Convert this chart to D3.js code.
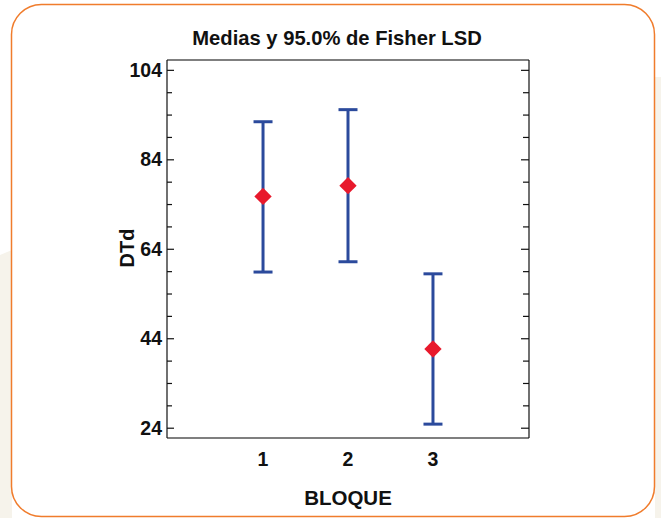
<!DOCTYPE html>
<html>
<head>
<meta charset="utf-8">
<script src="https://cdn.jsdelivr.net/npm/d3@7/dist/d3.min.js"></script>
<style>
  html, body { margin: 0; padding: 0; background: #ffffff; }
  svg { display: block; }
  text { font-family: "Liberation Sans", Arial, sans-serif; font-weight: bold; fill: #111; }
</style>
</head>
<body>
<svg id="chart" width="661" height="518"></svg>
<script>
// ---- data ----
const categories = ["1", "2", "3"];
const means = [75.7, 78.1, 41.6];
const lower = [58.8, 61.1, 24.8];
const upper = [92.4, 95.1, 58.4];
const yTickValues = [24, 44, 64, 84, 104];
const title = "Medias y 95.0% de Fisher LSD";
const xTitle = "BLOQUE";
const yTitle = "DTd";

(function () {
const svg = d3.select("#chart");
const W = 661, H = 518;

// background: beige page areas behind the rounded panel
svg.append("rect").attr("x", 0).attr("y", 0).attr("width", W).attr("height", H).attr("fill", "#ffffff");
svg.append("path").attr("d", "M0,255 L12,250 L12,518 L0,518 Z").attr("fill", "#f6f3eb");
svg.append("rect").attr("x", 655).attr("y", 77).attr("width", 6).attr("height", H - 77).attr("fill", "#f6f3eb");

// rounded panel
svg.append("rect")
  .attr("x", 11.5).attr("y", 4.5).attr("width", 643).attr("height", 512)
  .attr("rx", 30).attr("ry", 30)
  .attr("fill", "#ffffff").attr("stroke", "#f07c2c").attr("stroke-width", 1.5);

// plot area
const pL = 167, pR = 529, pT = 60, pB = 438;
const y = d3.scaleLinear().domain([21.7, 106.2]).range([pB, pT]);
const x = d3.scaleLinear().domain([-0.13, 4.13]).range([pL, pR]);

// frame
svg.append("line").attr("x1", pL).attr("x2", pR).attr("y1", pT).attr("y2", pT).attr("stroke", "#555").attr("stroke-width", 1.5);
svg.append("line").attr("x1", pL).attr("x2", pR).attr("y1", pB).attr("y2", pB).attr("stroke", "#555").attr("stroke-width", 1.5);

// left axis: ticks inward
const minorTicks = d3.range(24, 106, 5).filter(v => !yTickValues.includes(v));
const gl = svg.append("g").attr("transform", `translate(${pL},0)`)
  .call(d3.axisRight(y).tickValues(yTickValues).tickSize(7).tickFormat(""));
gl.select(".domain").attr("stroke", "#111").attr("stroke-width", 1.2).attr("d", `M0,${pT}V${pB}`);
gl.selectAll(".tick line").attr("stroke", "#111").attr("stroke-width", 1.2);
const glm = svg.append("g").attr("transform", `translate(${pL},0)`)
  .call(d3.axisRight(y).tickValues(minorTicks).tickSize(5).tickFormat(""));
glm.select(".domain").remove();
glm.selectAll(".tick line").attr("stroke", "#111").attr("stroke-width", 1.2);

// left labels
svg.append("g").selectAll("text").data(yTickValues).join("text")
  .attr("x", pL - 5).attr("y", d => y(d)).attr("dy", "0.36em")
  .attr("text-anchor", "end").attr("font-size", 19.5).text(d => d);

// right axis: ticks inward
const gr = svg.append("g").attr("transform", `translate(${pR},0)`)
  .call(d3.axisLeft(y).tickValues(yTickValues).tickSize(8).tickFormat(""));
gr.select(".domain").attr("stroke", "#111").attr("stroke-width", 1.2).attr("d", `M0,${pT}V${pB}`);
gr.selectAll(".tick line").attr("stroke", "#111").attr("stroke-width", 1.2);
const grm = svg.append("g").attr("transform", `translate(${pR},0)`)
  .call(d3.axisLeft(y).tickValues(minorTicks).tickSize(6).tickFormat(""));
grm.select(".domain").remove();
grm.selectAll(".tick line").attr("stroke", "#111").attr("stroke-width", 1.2);

// x labels
svg.append("g").selectAll("text").data(categories).join("text")
  .attr("x", (d, i) => x(i + 1)).attr("y", 466)
  .attr("text-anchor", "middle").attr("font-size", 19.5).text(d => d);

// error bars
const blue = "#2b4a9c";
const bars = svg.append("g");
categories.forEach((c, i) => {
  const cx = x(i + 1);
  bars.append("line").attr("x1", cx).attr("x2", cx).attr("y1", y(lower[i])).attr("y2", y(upper[i]))
    .attr("stroke", blue).attr("stroke-width", 3);
  [lower[i], upper[i]].forEach(v => {
    bars.append("line").attr("x1", cx - 9.5).attr("x2", cx + 9.5).attr("y1", y(v)).attr("y2", y(v))
      .attr("stroke", blue).attr("stroke-width", 3);
  });
});

// means (diamonds)
const diamond = d3.symbol().type(d3.symbolSquare).size(150);
svg.append("g").selectAll("path").data(means).join("path")
  .attr("d", diamond)
  .attr("transform", (d, i) => `translate(${x(i + 1)},${y(d)}) rotate(45)`)
  .attr("fill", "#e8192c");

// titles
svg.append("text").attr("x", 337).attr("y", 45).attr("text-anchor", "middle").attr("font-size", 20.2).text(title);
svg.append("text").attr("x", 348).attr("y", 505).attr("text-anchor", "middle").attr("font-size", 20.5).text(xTitle);
svg.append("text").attr("transform", "translate(134,248) rotate(-90)").attr("text-anchor", "middle").attr("font-size", 20).text(yTitle);
})();
</script>
</body>
</html>
